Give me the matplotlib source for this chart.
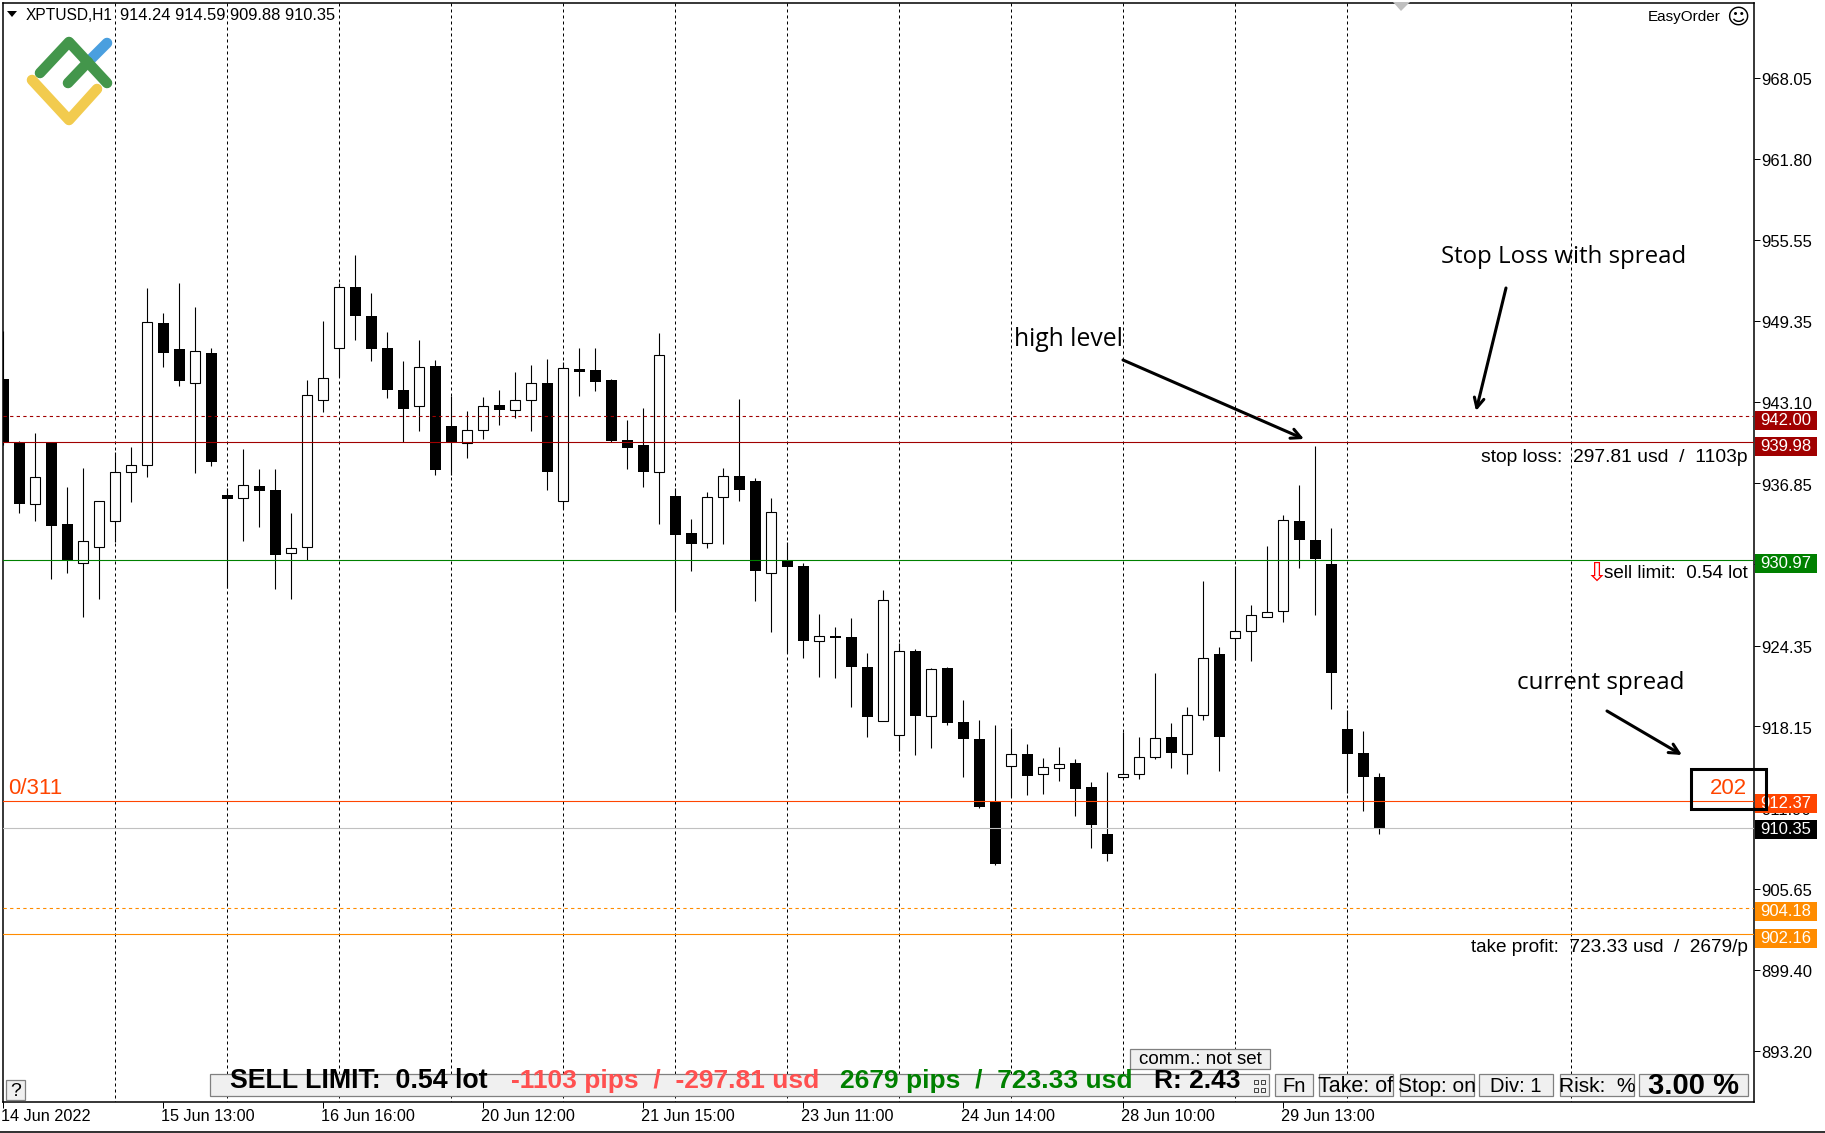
#Recreates the XPTUSD H1 chart with order levels
import numpy as np
import matplotlib
matplotlib.use('Agg')
import matplotlib.pyplot as plt
from matplotlib.patches import Rectangle
from matplotlib.transforms import ScaledTranslation

opens = [944.87, 940.03, 935.28, 939.92, 933.72, 930.67, 931.90, 933.97, 937.69, 938.28,
         949.18, 947.18, 944.59, 946.87, 935.95, 935.67, 936.64, 936.33, 931.51, 931.90,
         943.28, 947.28, 951.92, 949.72, 947.26, 944.03, 942.82, 945.87, 941.26, 939.97,
         940.90, 942.87, 942.51, 943.28, 944.56, 935.44, 945.64, 945.56, 944.79, 940.15,
         939.79, 937.67, 935.87, 933.03, 932.21, 935.82, 937.41, 937.03, 929.90, 930.90,
         930.49, 924.74, 925.10, 925.03, 922.72, 918.59, 917.51, 923.95, 918.97, 922.64,
         918.49, 917.18, 912.41, 915.13, 916.03, 914.44, 914.97, 915.33, 913.49, 909.87,
         914.28, 914.44, 915.82, 917.33, 916.05, 919.00, 923.72, 924.91, 925.45, 926.59,
         926.99, 933.95, 932.50, 930.65, 917.97, 916.13, 914.24]
highs = [948.56, 940.10, 940.72, 939.92, 936.56, 938.03, 935.46, 939.26, 939.64, 951.87,
         949.95, 952.26, 950.41, 947.26, 936.46, 939.49, 937.95, 937.95, 934.56, 944.79,
         949.33, 952.23, 954.41, 951.49, 948.49, 946.26, 947.87, 946.33, 943.56, 942.41,
         943.49, 944.03, 945.41, 945.95, 946.41, 946.18, 947.26, 947.26, 944.87, 941.72,
         942.64, 948.42, 936.46, 934.08, 936.18, 938.03, 943.33, 937.23, 935.72, 932.31,
         930.72, 926.79, 925.79, 926.49, 923.79, 928.64, 924.54, 924.10, 922.64, 922.72,
         920.18, 918.64, 918.26, 918.00, 916.79, 915.72, 916.56, 915.64, 913.87, 914.64,
         917.72, 917.33, 922.23, 918.41, 919.64, 929.35, 924.23, 930.46, 927.50, 932.02,
         934.41, 936.71, 939.73, 933.41, 919.42, 917.80, 914.59]
lows = [939.79, 934.56, 933.95, 929.49, 929.95, 926.56, 927.95, 932.36, 935.41, 937.33,
        945.79, 944.33, 937.64, 938.18, 928.82, 932.41, 933.49, 928.72, 927.95, 930.92,
        942.33, 945.03, 947.87, 946.26, 943.41, 940.03, 940.87, 937.49, 937.49, 938.79,
        940.26, 941.33, 941.87, 940.87, 936.33, 934.87, 943.56, 943.95, 940.00, 937.95,
        936.56, 933.72, 927.08, 930.10, 931.87, 932.18, 935.49, 927.79, 925.41, 923.79,
        923.41, 921.95, 921.87, 919.64, 917.33, 918.59, 916.26, 915.95, 916.49, 918.26,
        914.26, 911.87, 907.49, 912.72, 912.87, 912.95, 913.95, 911.26, 908.79, 907.79,
        914.28, 914.10, 915.64, 914.95, 914.49, 918.66, 914.68, 923.26, 923.18, 926.59,
        926.19, 930.34, 926.73, 919.51, 913.05, 911.66, 909.88]
closes = [939.92, 935.26, 937.31, 933.56, 930.92, 932.41, 935.46, 937.69, 938.23, 949.23,
          946.87, 944.72, 947.00, 938.49, 935.64, 936.69, 936.26, 931.33, 931.85, 943.62,
          944.92, 951.92, 949.72, 947.18, 944.03, 942.56, 945.77, 937.87, 940.03, 940.92,
          942.77, 942.49, 943.23, 944.54, 937.72, 945.69, 945.41, 944.64, 940.10, 939.59,
          937.67, 946.73, 932.87, 932.18, 935.77, 937.38, 936.33, 930.10, 934.62, 930.41,
          924.72, 925.08, 924.95, 922.72, 918.87, 927.85, 923.92, 918.95, 922.54, 918.41,
          917.18, 911.95, 907.56, 916.00, 914.33, 915.00, 915.23, 913.33, 910.56, 908.33,
          914.46, 915.77, 917.23, 916.10, 919.00, 923.40, 917.35, 925.48, 926.70, 926.93,
          934.01, 932.50, 931.02, 922.27, 916.04, 914.28, 910.35]

level_prices = [942.00, 939.98, 930.97, 912.37, 910.35, 904.18, 902.16]
level_labels = ['942.00', '939.98', '930.97', '912.37', '910.35', '904.18', '902.16']
level_colors = ['#a00000', '#a00000', '#008000', '#ff4500', '#c0c0c0', '#ff8c00', '#ff8c00']
level_boxes = ['#a00000', '#a00000', '#008000', '#ff4500', '#000000', '#ff8c00', '#ff8c00']
level_styles = ['dashed', 'solid', 'solid', 'solid', 'solid', 'dashed', 'solid']

price_ticks = [968.05, 961.80, 955.55, 949.35, 943.10, 936.85, 930.60, 924.35, 918.15, 911.90, 905.65, 899.40, 893.20]
time_ticks = [0, 10, 20, 30, 40, 50, 60, 70, 80]
time_labels = ['14 Jun 2022', '15 Jun 13:00', '16 Jun 16:00', '20 Jun 12:00', '21 Jun 15:00',
               '23 Jun 11:00', '24 Jun 14:00', '28 Jun 10:00', '29 Jun 13:00']
period_seps = [7, 14, 21, 28, 35, 42, 49, 56, 63, 70, 77, 84, 98]

ui_font = 'Liberation Sans'
note_font = 'Open Sans'
px = 0.72
y942 = 416.2

plt.rcParams['font.family'] = ui_font

fig = plt.figure(figsize=(18.25, 11.33), dpi=100)
ax = fig.add_axes([2.5/1825, 1-1101.5/1133, (1754-2.5)/1825, (1101.5-2.5)/1133])
ax.set_xlim(-0.5/16, 1751/16)
ax.set_ylim(942-(1101.5-y942)/13, 942+(y942-2.5)/13)

ax.vlines(period_seps, 880, 980, color='black', lw=px, linestyles=(0, (3, 3)), zorder=1)

o = np.array(opens)
h = np.array(highs)
l = np.array(lows)
c = np.array(closes)
x = np.arange(len(o))
up = c >= o
ax.vlines(x, l, h, color='black', lw=px*1.1, zorder=2)
ax.bar(x[~up], (o-c)[~up], bottom=c[~up], width=11/16, color='black', lw=0, zorder=3)
ax.bar(x[up], (c-o)[up], bottom=o[up], width=10/16, facecolor='white', edgecolor='black', lw=px*1.1, zorder=3)

for price, col, style in zip(level_prices, level_colors, level_styles):
    ls = (0, (3, 3)) if style == 'dashed' else 'solid'
    ax.axhline(price, color=col, lw=px*1.1, linestyle=ls, zorder=4)

ax.yaxis.tick_right()
ax.set_yticks(price_ticks)
ax.set_yticklabels(['%.2f' % p for p in price_ticks])
ax.set_xticks(time_ticks)
ax.set_xticklabels(time_labels, ha='left')
ax.tick_params(axis='both', length=4, width=px, labelsize=12)
ax.tick_params(axis='y', pad=1)
ax.tick_params(axis='x', pad=1.5, labelsize=11.7)
# nudge tick labels to sit where the terminal draws them
ynudge = ScaledTranslation(0, -1/72, fig.dpi_scale_trans)
xnudge = ScaledTranslation(-1.5/72, 0, fig.dpi_scale_trans)
for lab in ax.get_yticklabels():
    lab.set_transform(lab.get_transform() + ynudge)
for lab in ax.get_xticklabels():
    lab.set_transform(lab.get_transform() + xnudge)
for side in ax.spines.values():
    side.set_linewidth(1.1)

# everything else is placed in image pixels
ov = fig.add_axes([0, 0, 1, 1])
ov.set_xlim(0, 1825)
ov.set_ylim(1133, 0)
ov.axis('off')

box_shift = [4, 4, 4, 2, 2, 4, 4]
for price, lab, col, shift in zip(level_prices, level_labels, level_boxes, box_shift):
    yp = y942 + (942 - price)*13 + shift
    ov.add_patch(Rectangle((1755, yp-9.5), 62, 19, facecolor=col, edgecolor='none', zorder=3))
    ov.text(1786, yp, lab, color='white', fontsize=12, ha='center', va='center', zorder=4)

# logo
ov.plot([40, 69, 107], [73, 42, 83], color='#43964b', lw=7.6, solid_capstyle='round', zorder=2)
ov.plot([68, 88], [83, 62], color='#43964b', lw=7.6, solid_capstyle='round', zorder=2)
ov.plot([90, 107], [60, 43], color='#4a9fdf', lw=7.6, solid_capstyle='round', zorder=1)
ov.plot([32, 69, 97], [80, 120, 89], color='#f2cb4e', lw=7.6, solid_capstyle='round', solid_joinstyle='round', zorder=2)

# header
ov.fill([7, 17, 12], [11, 11, 17], color='black', lw=0)
ov.text(26, 15, 'XPTUSD,H1', fontsize=11.2, va='center')
ov.text(120, 15, '914.24 914.59 909.88 910.35', fontsize=11.9, va='center')
ov.text(1721, 17, 'EasyOrder', fontsize=11, va='center', ha='right')
ov.text(1738, 18, '\u263a', fontsize=16, va='center', ha='center', family='DejaVu Sans')
ov.fill([1393, 1410, 1401], [2, 2, 11], color='#c0c0c0', lw=0)

# order labels
ov.text(1748, 457, 'stop loss:  297.81 usd  /  1103p', fontsize=13.9, ha='right', va='center')
ov.text(1748, 574, 'sell limit:  0.54 lot', fontsize=13.6, ha='right', va='center')
ov.text(1597, 574, '\u21e9', color='red', fontsize=19, ha='center', va='center', family='DejaVu Sans')
ov.text(1748, 948, 'take profit:  723.33 usd  /  2679/p', fontsize=13.7, ha='right', va='center')
ov.text(8, 789, '0/311', color='#ff4500', fontsize=16, va='center')
ov.text(1747, 789, '202', color='#ff4500', fontsize=16, ha='right', va='center')
ov.add_patch(Rectangle((1691, 769), 75, 40, fill=False, edgecolor='black', lw=2.2, zorder=5))

# hand drawn notes
ov.text(1441, 257, 'Stop Loss with spread', fontsize=17.3, family=note_font, va='center')
ov.text(1014, 339, 'high level', fontsize=17.8, family=note_font, va='center')
ov.text(1517, 683, 'current spread', fontsize=17.4, family=note_font, va='center')
arrow = dict(arrowstyle='->,head_length=0.7,head_width=0.35', lw=2.2, color='black', shrinkA=0, shrinkB=0)
ov.annotate('', xy=(1476, 411), xytext=(1506, 288), arrowprops=arrow)
ov.annotate('', xy=(1304, 439), xytext=(1123, 360), arrowprops=arrow)
ov.annotate('', xy=(1682, 755), xytext=(1607, 711), arrowprops=arrow)

# trade panel
def button(x0, x1, y0, y1, label='', size=14.5, weight='normal'):
    rect = Rectangle((x0, y0), x1-x0, y1-y0, facecolor='#f0f0f0', edgecolor='#808080', lw=0.9, zorder=2)
    ov.add_patch(rect)
    if label:
        t = ov.text((x0+x1)/2, (y0+y1)/2+1, label, fontsize=size, fontweight=weight, ha='center', va='center', zorder=3)
        t.set_clip_path(rect)

button(6, 25, 1080, 1100, '?', 14)
button(210, 1269, 1074, 1096)
button(1130, 1270, 1049, 1069, 'comm.: not set', 13.5)
ov.text(230, 1081, 'SELL LIMIT:  0.54 lot', fontsize=19.3, fontweight='bold', va='center', zorder=3)
ov.text(511, 1081, '-1103 pips  /  -297.81 usd', color='#ff5050', fontsize=19, fontweight='bold', va='center', zorder=3)
ov.text(840, 1081, '2679 pips  /  723.33 usd', color='#008000', fontsize=19, fontweight='bold', va='center', zorder=3)
ov.text(1154, 1081, 'R: 2.43', fontsize=19, fontweight='bold', va='center', zorder=3)
for gx in [1254, 1261]:
    for gy in [1080, 1088]:
        ov.add_patch(Rectangle((gx, gy), 4, 4, fill=False, edgecolor='#404040', lw=0.7, zorder=3))
button(1275, 1313, 1074, 1096, 'Fn')
button(1319, 1393, 1074, 1096, 'Take: of', 15.5)
button(1400, 1474, 1074, 1096, 'Stop: on', 15)
button(1479, 1553, 1074, 1096, 'Div: 1')
button(1560, 1634, 1074, 1096, 'Risk:  %', 15)
button(1639, 1748, 1074, 1096, '3.00 %', 21, 'bold')

ov.plot([0, 1825], [1131.5, 1131.5], color='#303030', lw=1.4)

fig.savefig('out.png', dpi=100)
